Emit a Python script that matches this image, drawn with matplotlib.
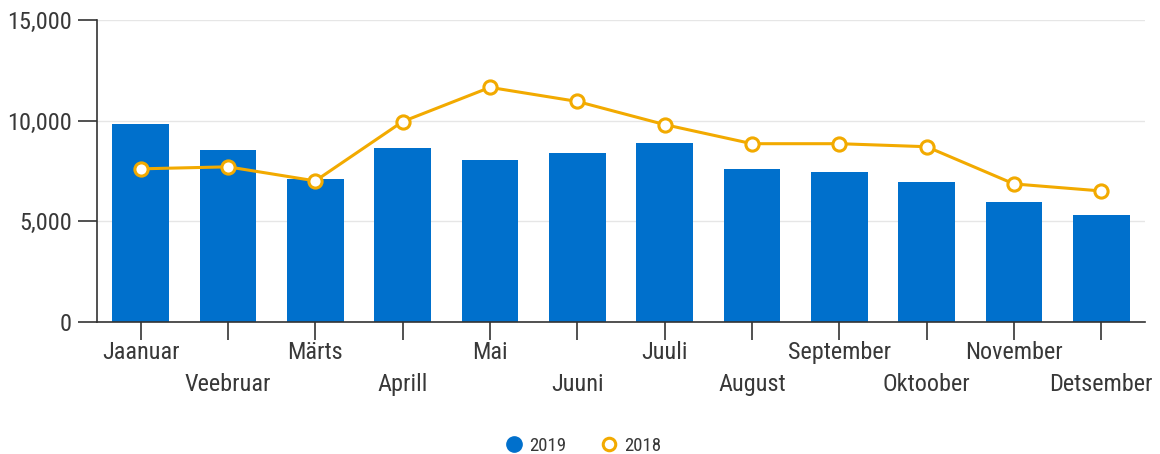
import matplotlib
matplotlib.use("Agg")
import matplotlib.pyplot as plt
from matplotlib.ticker import FuncFormatter
from matplotlib.lines import Line2D

months = ["Jaanuar", "Veebruar", "Märts", "Aprill", "Mai", "Juuni",
          "Juuli", "August", "September", "Oktoober", "November", "Detsember"]
values_2019 = [9850, 8550, 7100, 8650, 8050, 8400, 8900, 7600, 7450, 6950, 5950, 5300]
values_2018 = [7600, 7700, 7000, 9950, 11650, 10950, 9800, 8850, 8850, 8700, 6850, 6500]
y_ticks = [0, 5000, 10000, 15000]

BLUE = "#0070CC"
ORANGE = "#F2AA00"
TEXT = "#383838"

plt.rcParams['font.family'] = ['Roboto Condensed', 'Liberation Sans Narrow', 'Roboto', 'DejaVu Sans']

W, H = 1160, 454
fig = plt.figure(figsize=(W / 100, H / 100), dpi=100)
left, right, top, bottom = 97, 1145, 20, 321.7
ax = fig.add_axes([left / W, 1 - bottom / H, (right - left) / W, (bottom - top) / H])

x = list(range(len(months)))
ax.bar(x, values_2019, width=0.65, color=BLUE, zorder=2)
ax.plot(x, values_2018, color=ORANGE, lw=2.2, marker='o', ms=9.5,
        mfc='white', mec=ORANGE, mew=2.2, zorder=3)

ax.set_xlim(-0.5, len(months) - 0.5)
ax.set_ylim(0, 15000)
ax.set_yticks(y_ticks)
ax.yaxis.set_major_formatter(FuncFormatter(lambda v, p: f"{int(v):,}"))
ax.grid(axis='y', color='#e6e6e6', lw=1, zorder=0)
ax.set_axisbelow(True)

for s in ['top', 'right']:
    ax.spines[s].set_visible(False)
for s in ['left', 'bottom']:
    ax.spines[s].set_color('#333333')
    ax.spines[s].set_linewidth(1.2)

ax.tick_params(axis='y', length=14, width=1.2, color='#333333', labelsize=17.5,
               labelcolor=TEXT, pad=4)
ax.tick_params(axis='x', length=13, width=1.2, color='#333333', labelsize=17.5,
               labelcolor=TEXT, pad=1)
ax.set_xticks(x)
ax.set_xticklabels(months)
for i, lab in enumerate(ax.get_xticklabels()):
    if i % 2 == 1:
        lab.set_y(-0.105)

handles = [
    Line2D([], [], ls='none', marker='o', ms=11, mfc=BLUE, mec=BLUE),
    Line2D([], [], ls='none', marker='o', ms=9, mfc='white', mec=ORANGE, mew=2.2),
]
fig.legend(handles, ["2019", "2018"], loc='center', bbox_to_anchor=(580 / W, 1 - 446 / H),
           ncol=2, frameon=False, fontsize=13.5, handletextpad=0.0, columnspacing=1.5,
           handlelength=1.6, labelcolor=TEXT)

fig.savefig("out.png", dpi=100)
